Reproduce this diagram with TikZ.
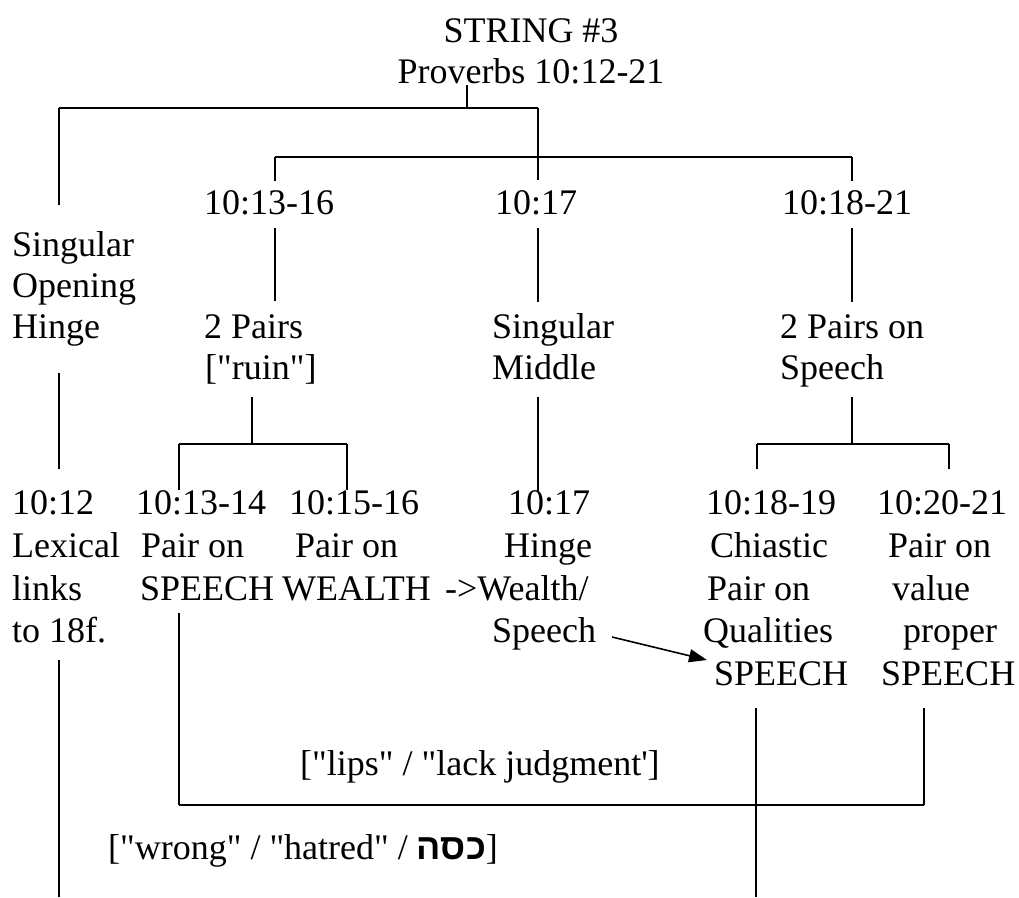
\documentclass[tikz,border=0pt]{standalone}
\usepackage{fontspec}
\setmainfont{Liberation Serif}[Ligatures=TeXOff]
\newfontfamily\hebfont[Script=Hebrew]{Liberation Sans}
\usetikzlibrary{arrows.meta}
\begin{document}
\begin{tikzpicture}[x=1pt,y=-1pt,
  txt/.style={font=\fontsize{36}{41.5}\selectfont, inner sep=0pt, anchor=base west},
  ctxt/.style={txt, anchor=base},
  vl/.style={line width=1.3pt},
  hl/.style={line width=1.9pt},
  arr/.style={line width=1.6pt, -{Triangle[length=18pt,width=13pt]}}]
\useasboundingbox (0,0) rectangle (1019,897);
% ---- title
\node[ctxt] (title) at (531,42) {STRING \#3};
\node[ctxt] (prov) at (531,83) {Proverbs 10:12-21};
% ---- row 1
\node[txt] (r13) at (204,214) {10:13-16};
\node[txt] (r17) at (495,214) {10:17};
\node[txt] (r18) at (782,214) {10:18-21};
% ---- column 1 upper
\node[txt] (soh1) at (12,256) {Singular};
\node[txt] (soh2) at (12,297) {Opening};
\node[txt] (soh3) at (12,338) {Hinge};
% ---- row 2
\node[txt] (tp1) at (204,338) {2 Pairs};
\node[txt] (tp2) at (205,379) {["ruin"]};
\node[txt] (sm1) at (492,338) {Singular};
\node[txt] (sm2) at (492,379) {Middle};
\node[txt] (ps1) at (780,338) {2 Pairs on};
\node[txt] (ps2) at (780,379) {Speech};
% ---- row 3
\node[txt] (a1) at (12,514) {10:12};
\node[txt] (a2) at (12,557) {Lexical};
\node[txt] (a3) at (12,600) {links};
\node[txt] (a4) at (12,642) {to 18f.};
\node[txt] (b1) at (136,514) {10:13-14};
\node[txt] (b2) at (141,557) {Pair on};
\node[txt] (b3) at (140,600) {SPEECH};
\node[txt] (c1) at (289,514) {10:15-16};
\node[txt] (c2) at (295,557) {Pair on};
\node[txt] (c3) at (282,600) {WEALTH};
\node[txt] (d1) at (508,514) {10:17};
\node[txt] (d2) at (504,557) {Hinge};
\node[txt] (d3) at (445,600) {->Wealth/};
\node[txt] (d4) at (492,642) {Speech};
\node[txt] (e1) at (706,514) {10:18-19};
\node[txt] (e2) at (710,557) {Chiastic};
\node[txt] (e3) at (707,600) {Pair on};
\node[txt] (e4) at (703,642) {Qualities};
\node[txt] (e5) at (714,685) {SPEECH};
\node[txt] (f1) at (877,514) {10:20-21};
\node[txt] (f2) at (888,557) {Pair on};
\node[txt] (f3) at (892,600) {value};
\node[txt] (f4) at (903,642) {proper};
\node[txt] (f5) at (881,685) {SPEECH};
% ---- bottom labels
\node[txt] (lips) at (300,775) {["lips" / "lack judgment']};
\node[txt] (wrong) at (108,859) {["wrong" / "hatred" / {\hebfont\bfseries\fontsize{36}{40}\selectfont כסה}]};
% ---- coordinates
\coordinate (p1) at (467,85);  \coordinate (p2) at (467,108);
\coordinate (t1) at (59,108);  \coordinate (t2) at (538,108);
\coordinate (l1) at (59,205);  \coordinate (m0) at (538,180);
\coordinate (h1) at (275,157); \coordinate (h2) at (852,157);
\coordinate (h1b) at (275,181); \coordinate (h2b) at (852,181);
\coordinate (u1) at (275,228); \coordinate (u1b) at (275,301);
\coordinate (u2) at (538,228); \coordinate (u2b) at (538,302);
\coordinate (u3) at (852,228); \coordinate (u3b) at (852,302);
\coordinate (v1) at (252,397); \coordinate (v1b) at (252,444);
\coordinate (w1) at (179,444); \coordinate (w2) at (347,444);
\coordinate (w1b) at (179,490); \coordinate (w2b) at (347,490);
\coordinate (v2) at (538,397); \coordinate (v2b) at (538,491);
\coordinate (v3) at (852,397); \coordinate (v3b) at (852,444);
\coordinate (x1) at (757,444); \coordinate (x2) at (949,444);
\coordinate (x1b) at (757,469); \coordinate (x2b) at (949,469);
\coordinate (y1) at (59,373); \coordinate (y1b) at (59,469);
\coordinate (z1) at (59,660); \coordinate (z1b) at (59,897);
\coordinate (k1) at (179,613); \coordinate (k1b) at (179,805);
\coordinate (k2) at (924,708); \coordinate (k2b) at (924,805);
\coordinate (k3) at (756,708); \coordinate (k3b) at (756,897);
\coordinate (ar1) at (612,637); \coordinate (ar2) at (707,660);
% ---- connectors
\draw[vl] (p1) -- (p2);
\draw[hl] (t1) -- (t2);
\draw[vl] (t1) -- (l1);
\draw[vl] (t2) -- (m0);
\draw[hl] (h1) -- (h2);
\draw[vl] (h1) -- (h1b);
\draw[vl] (h2) -- (h2b);
\draw[vl] (u1) -- (u1b);
\draw[vl] (u2) -- (u2b);
\draw[vl] (u3) -- (u3b);
\draw[vl] (v1) -- (v1b);
\draw[hl] (w1) -- (w2);
\draw[vl] (w1) -- (w1b);
\draw[vl] (w2) -- (w2b);
\draw[vl] (v2) -- (v2b);
\draw[vl] (v3) -- (v3b);
\draw[hl] (x1) -- (x2);
\draw[vl] (x1) -- (x1b);
\draw[vl] (x2) -- (x2b);
\draw[vl] (y1) -- (y1b);
\draw[vl] (z1) -- (z1b);
\draw[vl] (k1) -- (k1b);
\draw[hl] (k1b) -- (k2b);
\draw[vl] (k2) -- (k2b);
\draw[vl] (k3) -- (k3b);
\draw[arr] (ar1) -- (ar2);
\end{tikzpicture}
\end{document}
